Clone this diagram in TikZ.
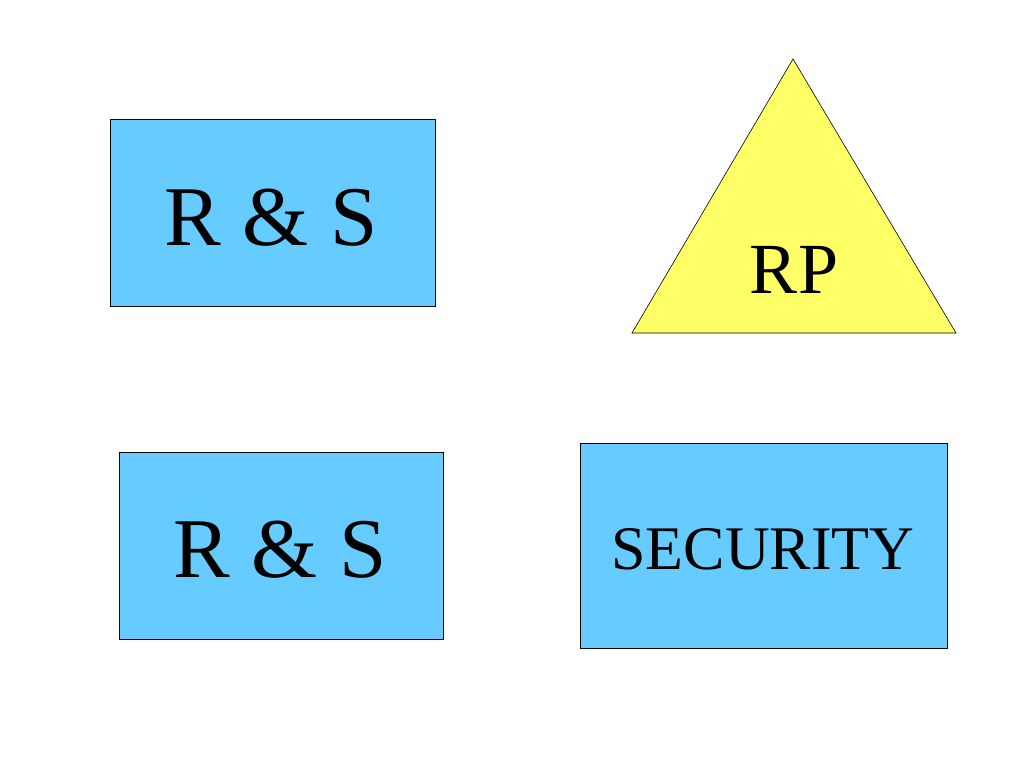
\documentclass[tikz,border=0pt]{standalone}
\usepackage{fontspec}
\setmainfont{Liberation Serif}
\usepackage{tikz}
\definecolor{boxblue}{HTML}{66CCFF}
\definecolor{rpyellow}{HTML}{FFFF66}
\tikzset{
    box/.style={draw, fill=boxblue, line width=0.8pt, inner sep=0pt}, % blue boxes
    label/.style={anchor=base, inner sep=0pt} % texts set on their baseline
}

\begin{document}
\begin{tikzpicture}[x=1pt, y=-1pt]
    \useasboundingbox (0,0) rectangle (1024,768);

    \node[box, minimum width=325pt, minimum height=187pt] (rstop) at (272.5,212.5) {};
    \node[box, minimum width=324pt, minimum height=187pt] (rsbot) at (281,545.5) {};
    \node[box, minimum width=367pt, minimum height=205pt] (sec) at (763.5,545.5) {};

    \coordinate (apex) at (793,59);
    \coordinate (baseL) at (632,333);
    \coordinate (baseR) at (956,333);
    \draw[fill=rpyellow, line width=0.6pt] (apex) -- (baseL) -- (baseR) -- cycle;

    \node[label, font=\fontsize{85}{100}\selectfont] (rstoptext) at (271,245) {R \& S};
    \node[label, font=\fontsize{85}{100}\selectfont] (rsbottext) at (280,577) {R \& S};
    \node[label, font=\fontsize{62}{74}\selectfont] (sectext) at (763,569) {SECURITY};
    \node[label, font=\fontsize{72}{86}\selectfont] (rptext) at (794,293) {RP};
\end{tikzpicture}
\end{document}
